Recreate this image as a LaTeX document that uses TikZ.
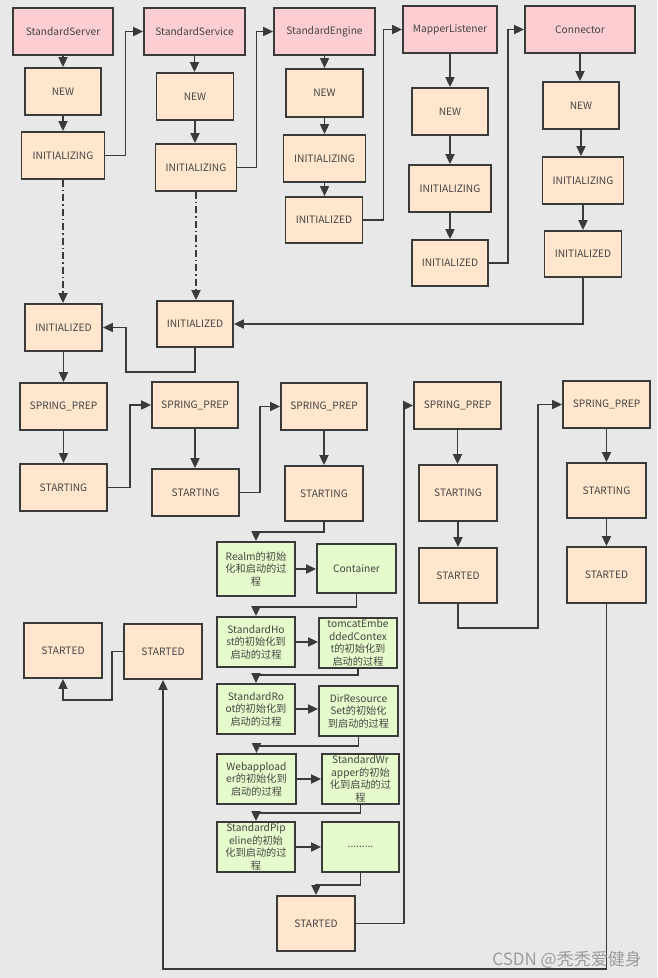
\documentclass[tikz,border=0pt]{standalone}
\usepackage{fontspec}
\setmainfont{Noto Sans CJK SC}
\usetikzlibrary{arrows.meta,calc}
\definecolor{bgc}{HTML}{E8E8E8}
\definecolor{pinkc}{HTML}{FCCED2}
\definecolor{peachc}{HTML}{FFE6CC}
\definecolor{greenc}{HTML}{E6FBCC}
\definecolor{linec}{HTML}{3A3A3A}
\definecolor{textc}{HTML}{444444}
\definecolor{wmc}{HTML}{9C9C9C}
\tikzset{
  base/.style={draw=linec, line width=1.8pt, inner sep=0pt, align=center, text=textc,
    font=\fontsize{10.2}{12.5}\selectfont},
  pinkbox/.style={base, fill=pinkc},
  peachbox/.style={base, fill=peachc},
  greenbox/.style={base, fill=greenc},
  arr/.style={draw=linec, line width=1.8pt, -{Triangle[length=10pt,width=9pt]}},
  dashdot/.style={arr, dash pattern=on 7pt off 3pt on 1.5pt off 3pt},
}
\newcommand{\bx}[7]{\node[#1, minimum width=#5pt, minimum height=#6pt] (#2) at (#3,#4) {#7};}
\begin{document}
\begin{tikzpicture}[x=1pt,y=-1pt]
\fill[bgc] (0,0) rectangle (657,978);
\useasboundingbox (0,0) rectangle (657,978);
% top row
\bx{pinkbox}{sS}{63}{31.5}{100}{47}{StandardServer}
\bx{pinkbox}{sSv}{194.5}{31.5}{101}{47}{StandardService}
\bx{pinkbox}{sE}{324.5}{31.5}{101}{47}{StandardEngine}
\bx{pinkbox}{mL}{450}{29.5}{94}{47}{MapperListener}
\bx{pinkbox}{cN}{580}{29.5}{110}{47}{Connector}
% col1
\bx{peachbox}{n1}{63}{91.5}{76}{47}{NEW}
\bx{peachbox}{i1}{63}{155.5}{83}{47}{INITIALIZING}
\bx{peachbox}{d1}{63.5}{327.5}{77}{47}{INITIALIZED}
\bx{peachbox}{sp1}{63.5}{406.5}{87}{47}{SPRING\_PREP}
\bx{peachbox}{st1}{63.5}{487.5}{87}{47}{STARTING}
% col2
\bx{peachbox}{n2}{195}{96.5}{77}{47}{NEW}
\bx{peachbox}{i2}{196}{167.5}{81}{47}{INITIALIZING}
\bx{peachbox}{d2}{195}{324}{76}{46}{INITIALIZED}
\bx{peachbox}{sp2}{195}{405}{86}{46}{SPRING\_PREP}
\bx{peachbox}{st2}{195.5}{492.5}{87}{47}{STARTING}
% col3
\bx{peachbox}{n3}{324.5}{93}{77}{48}{NEW}
\bx{peachbox}{i3}{324.5}{158.5}{82}{47}{INITIALIZING}
\bx{peachbox}{d3}{324}{220}{77}{46}{INITIALIZED}
\bx{peachbox}{sp3}{324}{406.5}{86}{47}{SPRING\_PREP}
\bx{peachbox}{st3}{324}{493.5}{78}{55}{STARTING}
% col4
\bx{peachbox}{n4}{450}{111.5}{76}{47}{NEW}
\bx{peachbox}{i4}{450}{188.5}{82}{47}{INITIALIZING}
\bx{peachbox}{d4}{450}{263}{76}{46}{INITIALIZED}
\bx{peachbox}{sp4}{457.5}{405.5}{87}{47}{SPRING\_PREP}
\bx{peachbox}{st4}{458}{493}{78}{56}{STARTING}
\bx{peachbox}{sd4}{458}{575.5}{78}{55}{STARTED}
% col5
\bx{peachbox}{n5}{581}{105.5}{76}{47}{NEW}
\bx{peachbox}{i5}{583}{180.5}{81}{47}{INITIALIZING}
\bx{peachbox}{d5}{583}{254}{77}{46}{INITIALIZED}
\bx{peachbox}{sp5}{606.5}{404.5}{87}{47}{SPRING\_PREP}
\bx{peachbox}{st5}{606.5}{490.5}{79}{55}{STARTING}
\bx{peachbox}{sd5}{606.5}{575}{79}{56}{STARTED}
% green
\bx{greenbox}{g1}{256}{569}{78}{54}{Realm的初始\\化和启动的过\\程}
\bx{greenbox}{g2}{356.5}{568.5}{79}{49}{Container}
\bx{greenbox}{g3}{256}{642}{78}{50}{StandardHo\\st的初始化到\\启动的过程}
\bx{greenbox}{g4}{358}{643}{78}{50}{tomcatEmbe\\ddedContex\\t的初始化到\\启动的过程}
\bx{greenbox}{g5}{256}{709}{78}{50}{StandardRo\\ot的初始化到\\启动的过程}
\bx{greenbox}{g6}{358.5}{711}{79}{50}{DirResource\\Set的初始化\\到启动的过程}
\bx{greenbox}{g7}{256.5}{779}{79}{50}{Webappload\\er的初始化到\\启动的过程}
\bx{greenbox}{g8}{360.5}{779}{77}{50}{StandardWr\\apper的初始\\化到启动的过\\程}
\bx{greenbox}{g9}{256}{847}{78}{50}{StandardPip\\eline的初始\\化到启动的过\\程}
\bx{greenbox}{g10}{360.5}{847}{77}{50}{.........}
% bottom STARTED
\bx{peachbox}{sdB}{316}{923.5}{78}{55}{STARTED}
\bx{peachbox}{sdL}{63}{650.5}{78}{55}{STARTED}
\bx{peachbox}{sdR}{163}{651.5}{78}{55}{STARTED}
% vertical arrows
\foreach \a/\b in {sS/n1,n1/i1,sSv/n2,n2/i2,sE/n3,n3/i3,i3/d3,mL/n4,n4/i4,i4/d4,cN/n5,n5/i5,i5/d5,
  d1/sp1,sp1/st1,sp2/st2,sp3/st3,sp4/st4,st4/sd4,sp5/st5,st5/sd5}
  \draw[arr] (\a.south) -- (\a.south |- \b.north);
\draw[dashdot] (i1.south) -- (i1.south |- d1.north);
\draw[dashdot] (i2.south) -- (i2.south |- d2.north);
% horizontal green arrows
\foreach \a/\b in {g1/g2,g3/g4,g5/g6,g7/g8,g9/g10}
  \draw[arr] (\a.east) -- (\a.east -| \b.west);
% elbow connectors
\draw[arr] (i1.east) -- ++(20,0) |- (sSv.west);
\draw[arr] (i2.east) -- ++(19,0) |- (sE.west);
\draw[arr] (d3.east) -- ++(20,0) |- (mL.west);
\draw[arr] (d4.east) -- ++(19,0) |- (cN.west);
\draw[arr] (d5.south) |- (d2.east);
\draw[arr] (d2.south) -- ++(0,24) -| ([xshift=23pt]d1.east) -- (d1.east);
\draw[arr] (st1.east) -- ++(22,0) |- (sp2.west);
\draw[arr] (st2.east) -- ++(20,0) |- (sp3.west);
\draw[arr] (st3.south) -- ++(0,10) -| (g1.north);
\draw[arr] (g2.south) -- ++(0,13) -| (g3.north);
\draw[arr] (g4.south) -- ++(0,6) -| (g5.north);
\draw[arr] (g6.south) -- ++(0,9) -| (g7.north);
\draw[arr] (g8.south) -- ++(0,8) -| (g9.north);
\draw[arr] (g10.south) -- ++(0,12) -| (sdB.north);
\draw[arr] (sdB.east) -- ++(48,0) |- (sp4.west);
\draw[arr] (sd4.south) -- ++(0,24) -| ([xshift=-24pt]sp5.west) -- (sp5.west);
\draw[arr] (sd5.south) -- ++(0,365) -| (sdR.south);
\draw[arr] (sdR.west) -- ++(-11,0) -- ++(0,48.5) -| (sdL.south);
% watermark
\node[text=wmc, font=\fontsize{17}{20}\selectfont, anchor=east, inner sep=0pt] (wm) at (642,960) {CSDN @秃秃爱健身};
\end{tikzpicture}
\end{document}
